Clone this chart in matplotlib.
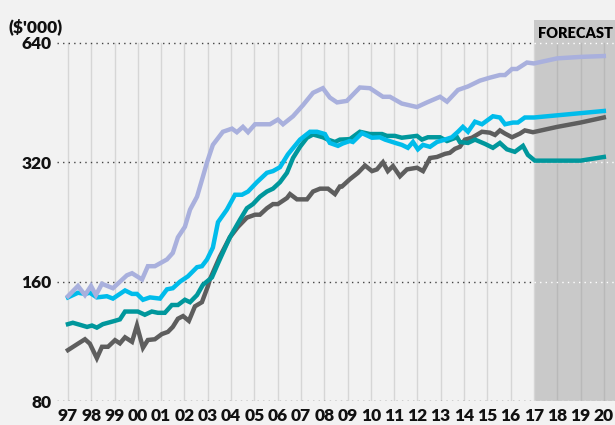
import matplotlib
matplotlib.use("Agg")
import matplotlib.pyplot as plt
from matplotlib.ticker import FixedLocator, NullLocator

# ---- data ($'000), x in decimal years ----
lav_yr = [1997.0, 1997.43, 1997.73, 1997.99, 1998.2, 1998.46, 1998.93, 1999.53, 1999.75, 2000.18,
          2000.43, 2000.73, 2001.25, 2001.5, 2001.72, 2002.02, 2002.24, 2002.54, 2002.79, 2002.97,
          2003.22, 2003.65, 2004.04, 2004.25, 2004.51, 2004.73, 2005.03, 2005.67, 2006.01, 2006.23,
          2006.66, 2007.09, 2007.52, 2007.94, 2008.24, 2008.55, 2008.97, 2009.53, 2009.96, 2010.52,
          2010.82, 2011.33, 2011.98, 2012.41, 2012.97, 2013.27, 2013.74, 2014.17, 2014.68, 2015.11,
          2015.54, 2015.76, 2016.06, 2016.27, 2016.7, 2017.0, 2018.0, 2019.0, 2020.0]
lav_val = [147, 156, 148, 156, 148, 158, 154, 166, 168, 162,
           175, 175, 182, 189, 207, 220, 243, 262, 294, 320,
           354, 382, 389, 381, 393, 381, 399, 399, 410, 399,
           418, 446, 479, 492, 466, 453, 457, 494, 492, 468,
           468, 450, 441, 453, 468, 455, 487, 497, 514, 523,
           531, 531, 550, 550, 571, 568, 585, 590, 593]

cyan_yr = [1997.0, 1997.43, 1997.73, 1997.94, 1998.24, 1998.67, 1998.93, 1999.45, 1999.75, 1999.96,
           2000.22, 2000.52, 2000.95, 2001.25, 2001.5, 2001.81, 2002.15, 2002.54, 2002.75, 2002.97,
           2003.22, 2003.44, 2003.82, 2004.17, 2004.47, 2004.73, 2005.11, 2005.54, 2005.8, 2006.1,
           2006.44, 2006.96, 2007.39, 2007.69, 2008.03, 2008.24, 2008.59, 2008.8, 2009.1, 2009.23,
           2009.62, 2010.05, 2010.39, 2010.61, 2011.12, 2011.33, 2011.59, 2011.81, 2012.02, 2012.24,
           2012.54, 2012.84, 2013.18, 2013.48, 2013.74, 2013.95, 2014.17, 2014.47, 2014.77, 2015.24,
           2015.54, 2015.76, 2016.1, 2016.31, 2016.61, 2017.0, 2020.0]
cyan_val = [146, 150, 149, 150, 146, 147, 145, 152, 149, 149,
            144, 146, 145, 153, 154, 160, 165, 174, 175, 182,
            195, 226, 243, 265, 265, 270, 285, 301, 304, 311,
            335, 365, 382, 382, 377, 358, 352, 357, 362, 360,
            379, 369, 370, 365, 357, 354, 348, 360, 345, 354,
            350, 360, 365, 370, 382, 393, 382, 405, 399, 418,
            415, 399, 403, 403, 415, 415, 431]

teal_yr = [1997.0, 1997.21, 1997.52, 1997.82, 1998.03, 1998.24, 1998.5, 1998.93, 1999.23, 1999.45,
           1999.79, 2000.0, 2000.3, 2000.6, 2000.86, 2001.16, 2001.46, 2001.72, 2002.02, 2002.24,
           2002.54, 2002.79, 2003.18, 2003.48, 2003.95, 2004.38, 2004.68, 2004.94, 2005.24, 2005.54,
           2005.8, 2006.1, 2006.4, 2006.66, 2006.96, 2007.26, 2007.52, 2007.94, 2008.16, 2008.46,
           2008.67, 2009.1, 2009.53, 2009.96, 2010.48, 2010.69, 2011.03, 2011.33, 2011.98, 2012.19,
           2012.45, 2012.97, 2013.27, 2013.7, 2013.82, 2014.17, 2014.47, 2014.9, 2015.24, 2015.54,
           2015.84, 2016.18, 2016.53, 2016.74, 2017.04, 2018.0, 2019.0, 2020.0]
teal_val = [125, 126, 124.5, 123, 124, 122.5, 125, 127, 128.5, 134.5,
            134.5, 134.5, 132, 134.5, 133.5, 133.5, 139.7, 139.7, 144, 142,
            148, 157, 164, 180, 207, 229, 245, 251, 262, 270,
            274.5, 285, 301, 328, 350, 369, 376, 370, 365, 360,
            365, 366, 382, 377, 377, 373, 373, 369, 373, 365,
            370, 370, 362, 370, 360, 358, 365, 356, 348, 358,
            345, 340, 352, 334, 323, 323, 323, 330]

gray_yr = [1997.0, 1997.43, 1997.73, 1997.94, 1998.24, 1998.46, 1998.72, 1999.02, 1999.23, 1999.45,
           1999.75, 1999.96, 2000.22, 2000.43, 2000.73, 2001.03, 2001.29, 2001.5, 2001.72, 2001.94,
           2002.19, 2002.45, 2002.75, 2003.01, 2003.09, 2003.52, 2003.95, 2004.3, 2004.68, 2005.03,
           2005.24, 2005.54, 2005.8, 2006.01, 2006.4, 2006.53, 2006.83, 2007.26, 2007.52, 2007.82,
           2008.16, 2008.46, 2008.67, 2008.76, 2009.1, 2009.45, 2009.75, 2010.05, 2010.26, 2010.52,
           2010.73, 2010.95, 2011.25, 2011.55, 2011.98, 2012.24, 2012.54, 2012.84, 2013.18, 2013.39,
           2013.61, 2013.82, 2014.04, 2014.34, 2014.77, 2015.11, 2015.33, 2015.54, 2015.76, 2016.06,
           2016.4, 2016.61, 2016.96, 2018.0, 2019.0, 2020.0]
gray_val = [107.5, 111.6, 114.5, 111.6, 102.6, 109.6, 109.6, 113.9, 111.8, 115.8,
            112.8, 124, 109, 114, 114.5, 118, 119.5, 123, 129, 131,
            127.4, 138.6, 142, 156, 162, 185, 207, 220, 232, 236,
            236, 245, 251, 251, 260, 266, 258, 258, 270, 274.5,
            274.5, 266, 278, 278, 290, 301, 314, 304, 307, 320,
            304, 313, 295, 307, 310, 304, 328, 330, 336, 338,
            346, 350, 365, 369, 382, 380, 375, 385, 378, 370,
            378, 385, 381, 393, 403, 415]

years = list(range(1997, 2021))
year_labels = ["%02d" % (y % 100) for y in years]
y_ticks = [80, 160, 320, 640]
forecast_start = 2017

BG = "#f2f2f2"
FONT = ["Lato", "DejaVu Sans"]

fig = plt.figure(figsize=(6.15, 4.25), dpi=100, facecolor=BG)
ax = fig.add_axes([57 / 615, 24 / 425, 558 / 615, 381 / 425], facecolor=BG)

x0, x1 = 1996.53, 2020.48
ax.set_yscale("log")
ax.set_xlim(x0, x1)
ax.set_ylim(80, 731)

# forecast shading
ax.axvspan(forecast_start, x1, color="#c9c9c9", lw=0, zorder=0)

# vertical year lines
for y in years:
    c = "#b9b9b9" if y > forecast_start else "#d6d6d6"
    ax.plot([y, y], [80, 640], color=c, lw=1.0, zorder=1)

# dotted horizontal grid: dark before forecast, white inside it
for v in y_ticks:
    ax.plot([x0, forecast_start], [v, v], color="#444444", lw=1.0, ls=(0, (1, 3)), zorder=1)
    ax.plot([forecast_start, x1], [v, v], color="white", lw=1.0, ls=(0, (1, 3)), zorder=1)

lw = 3.2
ax.plot(gray_yr, gray_val, color="#5e5e5e", lw=lw, zorder=3, solid_joinstyle="miter")
ax.plot(teal_yr, teal_val, color="#00979c", lw=lw, zorder=4, solid_joinstyle="miter")
ax.plot(cyan_yr, cyan_val, color="#00bceb", lw=lw, zorder=5, solid_joinstyle="miter")
ax.plot(lav_yr, lav_val, color="#a9b0dd", lw=lw, zorder=6, solid_joinstyle="miter")

ax.yaxis.set_major_locator(FixedLocator(y_ticks))
ax.yaxis.set_minor_locator(NullLocator())
ax.set_yticklabels([str(v) for v in y_ticks])
ax.set_xticks(years)
ax.set_xticklabels(year_labels)
ax.tick_params(axis="both", length=0, labelsize=12.5, colors="#111111")
ax.tick_params(axis="x", pad=5)
ax.tick_params(axis="y", pad=4)
for lab in ax.get_xticklabels() + ax.get_yticklabels():
    lab.set_fontweight("heavy")
    lab.set_family(FONT)

for s in ax.spines.values():
    s.set_visible(False)

fig.text(63 / 615, 1 - 32 / 425, "($'000)", ha="right", va="baseline",
         fontsize=12.5, fontweight="heavy", family=FONT, color="#111111")
ax.text(2020.4, 700, "FORECAST", ha="right", va="top", fontsize=10.5,
        fontweight="heavy", family=FONT, color="#000000", zorder=7)

fig.savefig("out.png", dpi=100, facecolor=BG)
